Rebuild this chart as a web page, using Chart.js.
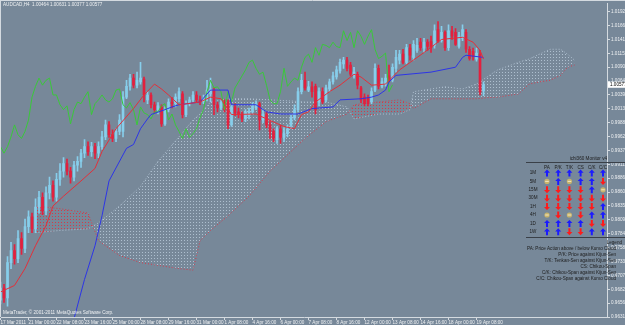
<!DOCTYPE html>
<html>
<head>
<meta charset="utf-8">
<script src="https://cdn.jsdelivr.net/npm/chart.js@4.4.1/dist/chart.umd.min.js"></script>
<style>
  html, body { margin: 0; padding: 0; background: #778899; }
  #wrap { width: 625px; height: 325px; position: relative; }
</style>
</head>
<body>
<div id="wrap"><canvas id="chart"></canvas></div>
<script>
/* ================= AUDCAD H4 + ICHIMOKU ================= */
// candles, bar 0 = 17 Mar 2011 16:00, one bar per 4 hours
const opens = [0.9662,0.9684,0.9666,0.9731,0.9753,0.9738,0.9775,0.9757,0.9797,0.9815,
  0.9793,0.9833,0.9851,0.9826,0.9859,0.9873,0.9851,0.9884,0.9899,0.9913,
  0.9899,0.9888,0.9910,0.9917,0.9932,0.9944,0.9935,0.9944,0.9932,0.9944,
  0.9962,0.9984,0.9966,0.9959,0.9972,0.9972,1.0035,1.0055,1.0070,1.0057,
  1.0063,1.0068,1.0030,1.0039,1.0021,1.0012,1.0017,0.9986,1.0012,1.0026,
  1.0023,1.0032,1.0041,1.0003,1.0023,1.0030,1.0039,1.0030,1.0026,1.0032,
  1.0041,1.0048,1.0021,1.0015,1.0025,1.0026,0.9984,1.0017,1.0008,1.0003,
  0.9995,1.0001,1.0008,1.0015,1.0023,0.9993,1.0004,0.9984,0.9972,0.9957,
  0.9977,0.9961,0.9968,0.9983,0.9997,1.0012,1.0045,1.0066,1.0048,1.0054,
  1.0055,1.0026,1.0045,1.0030,1.0050,1.0063,1.0072,1.0083,1.0096,1.0103,
  1.0094,1.0074,1.0077,1.0052,1.0035,1.0034,1.0026,1.0048,1.0088,1.0055,
  1.0059,1.0074,1.0066,1.0088,1.0103,1.0114,1.0099,1.0125,1.0108,1.0121,
  1.0136,1.0125,1.0136,1.0137,1.0130,1.0159,1.0139,1.0154,1.0126,1.0157,
  1.0154,1.0128,1.0143,1.0154,1.0123,1.0119,1.0105,1.0114,1.00464];
const highs = [0.9695,0.9691,0.9742,0.9768,0.9764,0.9790,0.9786,0.9811,0.9826,0.9822,
  0.9848,0.9862,0.9859,0.9870,0.9888,0.9881,0.9895,0.9913,0.9924,0.9921,
  0.9906,0.9917,0.9926,0.9939,0.9957,0.9953,0.9952,0.9950,0.9953,0.9972,
  0.9993,0.9990,0.9975,0.9977,1.0003,1.0045,1.0066,1.0077,1.0077,1.0081,
  1.0099,1.0072,1.0045,1.0043,1.0026,1.0025,1.0021,1.0017,1.0032,1.0034,
  1.0041,1.0052,1.0045,1.0028,1.0035,1.0045,1.0045,1.0037,1.0039,1.0066,
  1.0070,1.0052,1.0026,1.0028,1.0030,1.0030,1.0021,1.0023,1.0015,1.0008,
  1.0012,1.0015,1.0025,1.0028,1.0026,1.0012,1.0008,0.9990,0.9977,0.9981,
  0.9983,0.9979,0.9984,1.0003,1.0021,1.0052,1.0077,1.0081,1.0064,1.0063,
  1.0059,1.0052,1.0052,1.0057,1.0068,1.0081,1.0092,1.0105,1.0108,1.0108,
  1.0099,1.0090,1.0081,1.0055,1.0041,1.0039,1.0052,1.0096,1.0094,1.0070,
  1.0077,1.0094,1.0096,1.0121,1.0121,1.0123,1.0132,1.0132,1.0139,1.0143,
  1.0143,1.0143,1.0141,1.0147,1.0168,1.0174,1.0165,1.0157,1.0168,1.0165,
  1.0161,1.0154,1.0168,1.0159,1.0128,1.0125,1.0125,1.0121,1.00631];
const lows = [0.9655,0.9658,0.9651,0.9720,0.9728,0.9731,0.9746,0.9749,0.9786,0.9786,
  0.9786,0.9822,0.9819,0.9819,0.9848,0.9844,0.9844,0.9873,0.9888,0.9892,
  0.9877,0.9881,0.9899,0.9906,0.9924,0.9928,0.9926,0.9922,0.9924,0.9939,
  0.9957,0.9961,0.9953,0.9953,0.9966,0.9962,1.0032,1.0048,1.0052,1.0052,
  1.0059,1.0026,1.0023,1.0015,1.0006,1.0004,0.9981,0.9983,1.0008,1.0015,
  1.0017,1.0026,0.9997,0.9999,1.0019,1.0026,1.0025,1.0021,1.0023,1.0028,
  1.0026,1.0003,1.0008,1.0012,1.0008,0.9977,0.9981,1.0001,0.9997,0.9990,
  0.9990,0.9995,1.0004,1.0012,0.9975,0.9988,0.9979,0.9959,0.9953,0.9950,
  0.9950,0.9953,0.9962,0.9977,0.9993,1.0008,1.0041,1.0048,1.0045,1.0035,
  1.0004,1.0019,1.0023,1.0026,1.0045,1.0059,1.0068,1.0079,1.0088,1.0083,
  1.0074,1.0070,1.0050,1.0025,1.0019,1.0019,1.0023,1.0045,1.0050,1.0052,
  1.0055,1.0063,1.0063,1.0081,1.0096,1.0096,1.0096,1.0103,1.0103,1.0117,
  1.0121,1.0117,1.0121,1.0117,1.0125,1.0136,1.0136,1.0121,1.0121,1.0141,
  1.0130,1.0125,1.0139,1.0117,1.0103,1.0103,1.0101,1.0039,1.00377];
const closes = [0.9684,0.9666,0.9731,0.9753,0.9738,0.9775,0.9757,0.9797,0.9815,0.9793,
  0.9833,0.9851,0.9826,0.9859,0.9873,0.9851,0.9884,0.9899,0.9913,0.9899,
  0.9888,0.9910,0.9917,0.9932,0.9944,0.9935,0.9944,0.9932,0.9944,0.9962,
  0.9984,0.9966,0.9959,0.9972,0.9993,1.0035,1.0055,1.0070,1.0057,1.0066,
  1.0070,1.0039,1.0039,1.0021,1.0012,1.0019,0.9986,1.0012,1.0026,1.0023,
  1.0035,1.0045,1.0003,1.0023,1.0030,1.0039,1.0030,1.0026,1.0032,1.0048,
  1.0050,1.0021,1.0015,1.0025,1.0012,0.9984,1.0017,1.0006,1.0003,0.9995,
  1.0008,1.0008,1.0019,1.0023,0.9993,1.0004,0.9984,0.9972,0.9959,0.9977,
  0.9961,0.9968,0.9977,0.9997,1.0012,1.0045,1.0066,1.0052,1.0054,1.0045,
  1.0012,1.0045,1.0026,1.0052,1.0063,1.0074,1.0085,1.0099,1.0103,1.0088,
  1.0077,1.0081,1.0057,1.0030,1.0023,1.0023,1.0045,1.0088,1.0055,1.0063,
  1.0070,1.0066,1.0090,1.0108,1.0114,1.0099,1.0126,1.0112,1.0132,1.0130,
  1.0126,1.0136,1.0128,1.0126,1.0157,1.0139,1.0154,1.0126,1.0157,1.0147,
  1.0132,1.0147,1.0159,1.0123,1.0106,1.0110,1.0116,1.0045,1.00577];

// Tenkan-sen / Kijun-sen vertices (bar index, price)
const tenkanBars = [0,4,7,10,13,15,18,23,27,29,33,38,41,44,46,48,51,57,60,63,
  66,73,76,81,84,86,88,90,94,97,101,103,106,110,114,121,126,132,135,137,138];
const tenkanVals = [0.9677,0.9689,0.9720,0.9762,0.9799,0.9835,0.9853,0.9881,0.9904,0.9935,
  0.9977,1.0014,1.0039,1.0059,1.0050,1.0039,1.0021,1.0026,1.0035,1.0032,
  1.0003,1.0004,0.9995,0.9981,0.9977,1.0003,1.0008,1.0026,1.0045,1.0057,
  1.0077,1.0072,1.0057,1.0059,1.0085,1.0117,1.0141,1.0145,1.0136,1.0121,1.0105];
const kijunBars = [21,24,27,29,31,36,38,40,42,43,47,49,51,57,60,65,66,73,
  76,80,85,89,95,97,103,106,108,110,111,113,123,130,132,133,138];
const kijunVals = [0.9628,0.9700,0.9762,0.9817,0.9881,0.9941,0.9948,0.9977,
  0.9995,1.0003,1.0012,1.0017,1.0021,1.0026,1.0048,1.0048,1.0021,1.0021,
  1.0008,1.0004,1.0004,1.0014,1.0017,1.0030,1.0032,1.0035,1.0039,1.0048,
  1.0063,1.0075,1.0081,1.0090,1.0108,1.0112,1.0108];

// Senkou span A / B (already shifted 26 bars forward)
const senkouBars = [10,17,25,28,34,40,45,51,55,57,60,65,71,77,83,87,93,99,101,108,
  114,117,118,123,127,132,136,139,142,148,151,154,157,160,162,164];
const spanA = [0.9786,0.9790,0.9793,0.9804,0.9835,0.9871,0.9917,0.9962,0.9993,1.0004,
  1.0026,1.0032,1.0032,1.0030,1.0028,1.0026,1.0026,1.0017,0.9995,1.0004,
  1.0004,1.0012,1.0045,1.0050,1.0054,1.0050,1.0059,1.0072,1.0085,1.0099,
  1.0105,1.0114,1.0123,1.0123,1.0114,1.0103];
const spanB = [0.9835,0.9830,0.9822,0.9771,0.9744,0.9731,0.9726,0.9720,0.9717,0.9771,
  0.9790,0.9817,0.9853,0.9899,0.9935,0.9959,0.9990,1.0004,1.0021,1.0026,
  1.0030,1.0023,1.0014,1.0032,1.0032,1.0032,1.0032,1.0034,1.0035,1.0041,
  1.0059,1.0063,1.0066,1.0075,1.0090,1.0094];
const chikouShift = 26; // chikou = close plotted 26 bars back

// axis labels
const priceTicks = [1.01920,1.01665,1.01410,1.01155,1.00900,1.00645,1.00390,1.00135,
  0.99880,0.99625,0.99370,0.99115,0.98860,0.98605,0.98350,0.98095,0.97840,0.97585,
  0.97330,0.97075,0.96820,0.96565,0.96310];
const timeLabels = ['17 Mar 2011','21 Mar 00:00','22 Mar 08:00','23 Mar 16:00','25 Mar 00:00',
  '28 Mar 08:00','29 Mar 16:00','31 Mar 00:00','1 Apr 08:00','4 Apr 16:00','6 Apr 00:00',
  '7 Apr 08:00','8 Apr 16:00','12 Apr 00:00','13 Apr 08:00','14 Apr 16:00','18 Apr 00:00','19 Apr 08:00'];
const barsPerLabel = 8;

// ichi360 monitor panel
const monitorTitle = 'ichi360 Monitor v4';
const monitorCols = ['PA','P/K','T/K','CS','C/K','C/C'];
const monitorRows = ['1M','5M','15M','30M','1H','4H','1D','1W'];
const monitorState = ['UUUUUU','SUSUUD','DDDDUS','DDDDDD','DDDDDU','SDSDUU','UUUUDD','UUDDUU'];
const legendLines = ['PA: Price Action above / below Kumo Cloud','P/K: Price against Kijun-Sen',
  'T/K: Tenkan-Sen against Kijun-Sen','CS: Chikou-Span','C/K: Chikou-Span against Kijun-Sen',
  'C/C: Chikou-Span against Kumo Cloud'];

const headerText = 'AUDCAD,H4  1.00464 1.00631 1.00377 1.00577';
const copyText = 'MetaTrader, \u00A9 2001-2011 MetaQuotes Software Corp.';

/* ---------- styles ---------- */
const upColor = '#87ceeb';
const downColor = '#e3203e';
const axisColor = '#d4dae0';
const smallFont = 'Liberation Sans';

// dotted hatch for the kumo
function hatch(color) {
    const c = document.createElement('canvas');
    c.width = 3; c.height = 3;
    const g = c.getContext('2d');
    g.fillStyle = color;
    g.fillRect(1, 0, 1, 1);
    return g.createPattern(c, 'repeat');
}
const kumoUp = hatch('#aebfcf');
const kumoDown = hatch('#d23a4a');

const candleColors = closes.map((c, i) => c >= opens[i] ? upColor : downColor);
const pts = (bars, vals) => bars.map((b, k) => ({ x: b, y: vals[k] }));

/* ---------- overlay: texts, price box, monitor ---------- */
function arrow(g, x, y, dir) {
    if (dir === 'S') {
        g.fillStyle = '#c8b46c';
        g.beginPath(); g.arc(x, y, 2.6, 0, Math.PI * 2); g.fill();
        g.fillStyle = '#efe6c4';
        g.fillRect(x - 1.8, y - 0.5, 3.6, 1);
        return;
    }
    const s = dir === 'U' ? 1 : -1;
    g.fillStyle = dir === 'U' ? '#1b1bff' : '#ff1b1b';
    g.beginPath();
    g.moveTo(x, y - 3.5 * s);
    g.lineTo(x + 3, y - 0.3 * s);
    g.lineTo(x + 1, y - 0.3 * s);
    g.lineTo(x + 1, y + 3.5 * s);
    g.lineTo(x - 1, y + 3.5 * s);
    g.lineTo(x - 1, y - 0.3 * s);
    g.lineTo(x - 3, y - 0.3 * s);
    g.closePath();
    g.fill();
}

const overlay = {
    id: 'overlay',
    afterDraw(chart) {
        const g = chart.ctx;
        const area = chart.chartArea;
        g.save();
        // frame top / left
        g.strokeStyle = axisColor;
        g.lineWidth = 1;
        g.beginPath();
        g.moveTo(0, 0.5); g.lineTo(chart.width, 0.5);
        g.moveTo(0.5, 0); g.lineTo(0.5, area.bottom);
        g.stroke();

        g.font = '4.6px "' + smallFont + '"';
        g.textBaseline = 'middle';
        g.textAlign = 'left';
        g.fillStyle = '#eef0f2';
        g.fillText(headerText, 3, 5);
        g.fillText(copyText, 3, 313);

        // current price box
        const last = closes[closes.length - 1];
        const py = chart.scales.y.getPixelForValue(last);
        g.fillStyle = '#ffffff';
        g.fillRect(area.right + 1, py - 3, 20, 6);
        g.fillStyle = '#000000';
        g.fillText(last.toFixed(5), area.right + 3, py);

        // monitor panel
        const colX = monitorCols.map((c, k) => 547 + k * 11.2);
        const rowY = monitorRows.map((r, k) => 173 + k * 8.4);
        g.fillStyle = '#1c1c1c';
        g.textAlign = 'right';
        g.fillText(monitorTitle, area.right, 159);
        g.strokeStyle = '#3a4048';
        g.beginPath();
        g.moveTo(526, 162.5); g.lineTo(chart.width, 162.5);
        g.moveTo(526, 237.5); g.lineTo(chart.width, 237.5);
        g.stroke();
        g.textAlign = 'center';
        monitorCols.forEach((c, k) => g.fillText(c, colX[k], 167.5));
        monitorRows.forEach((r, k) => g.fillText(r, 533, rowY[k]));
        monitorState.forEach((row, r) => {
            row.split('').forEach((s, k) => arrow(g, colX[k], rowY[r], s));
        });
        g.fillStyle = '#1c1c1c';
        g.textAlign = 'right';
        g.fillText('Legend', 622, 243);
        legendLines.forEach((t, k) => g.fillText(t, 616, 249 + k * 6));
        g.restore();
    }
};

/* ---------- chart ---------- */
const ctx = document.getElementById('chart').getContext('2d');
const chart = new Chart(ctx, {
    type: 'bar',
    data: {
        datasets: [
            // lines on top
            { type: 'line', label: 'Tenkan', data: pts(tenkanBars, tenkanVals), borderColor: '#e2303a',
              borderWidth: 1, pointRadius: 0, tension: 0, order: 0 },
            { type: 'line', label: 'Kijun', data: pts(kijunBars, kijunVals), borderColor: '#2d35e6',
              borderWidth: 1, pointRadius: 0, tension: 0, order: 0 },
            { type: 'line', label: 'Chikou', data: closes.map((c, i) => ({ x: i - chikouShift, y: c })),
              borderColor: '#3ac83a', borderWidth: 1, pointRadius: 0, tension: 0, order: 0 },
            // candles
            { label: 'Body', data: closes.map((c, i) => ({ x: i, y: [opens[i], c] })),
              backgroundColor: candleColors, barThickness: 2, grouped: false, order: 1 },
            { label: 'Wick', data: closes.map((c, i) => ({ x: i, y: [lows[i], highs[i]] })),
              backgroundColor: candleColors, barThickness: 1, grouped: false, order: 2 },
            // kumo
            { type: 'line', label: 'SpanA', data: pts(senkouBars, spanA), borderColor: '#aebfcf',
              borderWidth: 1, borderDash: [1, 2], pointRadius: 0, tension: 0, order: 3,
              fill: { target: '+1', above: kumoUp, below: kumoDown } },
            { type: 'line', label: 'SpanB', data: pts(senkouBars, spanB), borderColor: '#d23a4a',
              borderWidth: 1, borderDash: [1, 2], pointRadius: 0, tension: 0, order: 3 }
        ]
    },
    options: {
        responsive: true,
        maintainAspectRatio: false,
        animation: false,
        layout: { padding: { top: 1, left: 1, right: 0, bottom: 0 } },
        plugins: { legend: { display: false }, tooltip: { enabled: false } },
        scales: {
            x: {
                type: 'linear',
                min: 0.14,
                max: 173.28,
                offset: false,
                afterBuildTicks: s => { s.ticks = timeLabels.map((t, k) => ({ value: k * barsPerLabel })); },
                afterFit: s => { s.height = 8; },
                ticks: {
                    autoSkip: false, maxRotation: 0, align: 'start', padding: 0,
                    color: '#eef0f2', font: { family: smallFont, size: 4.6 },
                    callback: (v, i) => timeLabels[i]
                },
                grid: { drawOnChartArea: false, tickLength: 3, color: axisColor, offset: false },
                border: { color: axisColor }
            },
            y: {
                position: 'right',
                min: 0.96310,
                max: 1.02066,
                afterBuildTicks: s => { s.ticks = priceTicks.map(v => ({ value: v })); },
                afterFit: s => { s.width = 18; },
                ticks: {
                    padding: 1, crossAlign: 'near',
                    color: '#eef0f2', font: { family: smallFont, size: 4.6 },
                    callback: v => v.toFixed(5)
                },
                grid: { drawOnChartArea: false, tickLength: 3, color: axisColor },
                border: { color: axisColor }
            }
        }
    },
    plugins: [overlay]
});
</script>
</body>
</html>
